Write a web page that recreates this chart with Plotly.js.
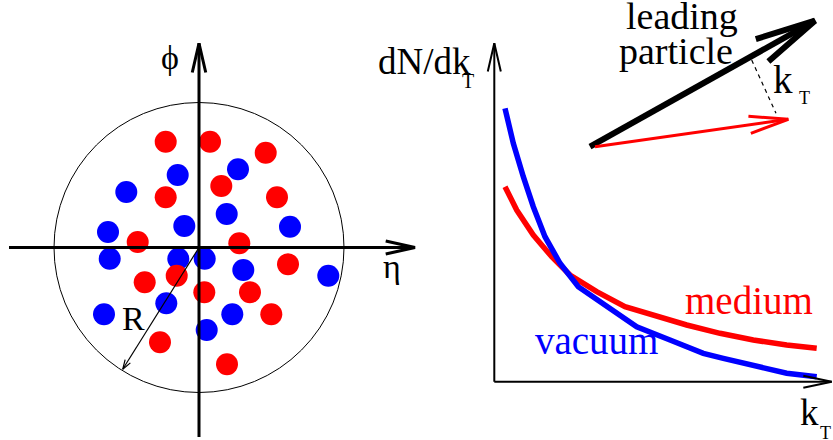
<!DOCTYPE html>
<html>
<head>
<meta charset="utf-8">
<script src="https://cdn.plot.ly/plotly-3.0.1.min.js"></script>
<style>
html,body{margin:0;padding:0;background:#fff;}
#plot{width:833px;height:440px;}
</style>
</head>
<body>
<div id="plot"></div>
<script>
// ---- Data (page-pixel frame: x right, y down) ----
// Left panel: particles in the eta-phi plane
const redEta  = [165.7,210,265.7,221.3,165.7,277,137.7,239.3,288,176.7,144.7,204.3,250,271.3,160,227];
const redPhi  = [141.7,141.7,152.7,186,197.3,197.3,242,243.3,264.3,275.7,282.3,292.3,292.3,314.3,342.3,364.3];
const blueEta = [177.7,238,126.3,226.7,184.3,290,108,109.7,178.3,204.7,243.3,328.3,166.3,104,232.3,206.7];
const bluePhi = [175,169.3,192,214,226,226.7,232,258.7,258.7,258.7,270,275.7,303.3,314.3,314.3,330];
const coneCenter = [199, 247.5];
const coneRadius = 145;
const radiusTip = [122.7, 369.3];

// Right panel: dN/dkT spectra
const vacKT = [505,513.3,523.3,533.3,545,560,578.3,603.3,623.3,636.7,670,703.3,723.3,753.3,786.7,816.7];
const vacDN = [108.3,143.3,176.7,206.7,236.7,263.3,286.7,303.3,316.7,326.7,340,353.3,358.3,365,373.3,376.7];
const medKT = [505,516.7,533.3,551.7,570,596.7,625,653.3,686.7,720,753.3,786.7,816.7];
const medDN = [186.7,210,235,256.7,275,291.7,306.7,315,325,333.3,340,345,348.3];

// Axis arrows [x0,y0,x1,y1]
const etaAxis = [9,247.5,415,247.5];
const phiAxis = [199,437,199,43.3];
const kTAxis  = [494.3,381.7,831.7,381.7];
const dNAxis  = [494.3,381.7,494.3,43.3];
// Momentum vectors [x0,y0,x1,y1]
const leadingVec = [590,146.7,815,20.7];
const radiatedVec = [595,146.7,788.3,119.3];
const kTLine = [751.7,60,776,113.3];

// Labels (subscripts drawn as their own small labels)
const labels = ['ϕ','η','R','dN/dk','T','leading','particle','k','T','medium','vacuum','k','T'];

// ---- drawing ----
const traces = [];
function seg(v, width, color, dash){
  traces.push({x:[v[0],v[2]], y:[v[1],v[3]], mode:'lines', hoverinfo:'skip',
    line:{color:color, width:width, dash:dash||'solid'}, showlegend:false});
}
function head(v, len, ang, width, color){
  const dir = Math.atan2(v[1]-v[3], v[0]-v[2]);
  const a = ang*Math.PI/180;
  traces.push({x:[v[2]+len*Math.cos(dir+a), v[2], v[2]+len*Math.cos(dir-a)],
    y:[v[3]+len*Math.sin(dir+a), v[3], v[3]+len*Math.sin(dir-a)],
    mode:'lines', hoverinfo:'skip', line:{color:color, width:width}, showlegend:false});
}
function arrow(v, len, ang, width, color){ seg(v,width,color); head(v,len,ang,width,color); }

traces.push({x:blueEta, y:bluePhi, mode:'markers', hoverinfo:'skip', showlegend:false,
  marker:{color:'#0000ff', size:22, line:{width:0}}});
traces.push({x:redEta, y:redPhi, mode:'markers', hoverinfo:'skip', showlegend:false,
  marker:{color:'#ff0000', size:22, line:{width:0}}});
arrow(etaAxis, 30, 12.5, 3, '#000');
arrow(phiAxis, 30, 13, 3, '#000');
arrow([coneCenter[0],coneCenter[1],radiusTip[0],radiusTip[1]], 10, 18, 1.2, '#000');

traces.push({x:medKT, y:medDN, mode:'lines', hoverinfo:'skip', showlegend:false,
  line:{color:'#ff0000', width:5.5}});
traces.push({x:vacKT, y:vacDN, mode:'lines', hoverinfo:'skip', showlegend:false,
  line:{color:'#0000ff', width:5.5}});
arrow(kTAxis, 29, 12, 2, '#000');
arrow(dNAxis, 29, 13, 2, '#000');
arrow(leadingVec, 62, 12, 6, '#000');
arrow(radiatedVec, 40, 12.5, 3, '#ff0000');
seg(kTLine, 1.2, '#000', '4px,4px');

const serif = 'Liberation Serif';
function ann(i, x, y, size, color, xanchor){
  return {text:labels[i], x:x, y:y, xref:'x', yref:'y', showarrow:false,
    xanchor:xanchor||'center', yanchor:'middle', font:{family:serif, size:size, color:color||'#000'}};
}
const annotations = [
  ann(0, 170, 57, 34),
  ann(1, 392, 266, 34),
  ann(2, 133.5, 318, 34),
  ann(3, 424, 61, 37),
  ann(4, 468, 81, 20),
  ann(5, 681.5, 16, 38),
  ann(6, 676, 50.5, 38),
  ann(7, 783, 79.5, 39),
  ann(8, 804, 97.5, 18),
  ann(9, 749, 300, 39, '#ff0000'),
  ann(10, 596.5, 340, 39, '#0000ff'),
  ann(11, 809, 412.5, 37),
  ann(12, 818, 433, 18, '#000', 'left')
];

const layout = {
  width:833, height:440, margin:{l:0,r:0,t:0,b:0},
  paper_bgcolor:'#fff', plot_bgcolor:'#fff', showlegend:false,
  font:{family:serif},
  xaxis:{range:[0,833], visible:false, fixedrange:true},
  yaxis:{range:[440,0], visible:false, fixedrange:true},
  shapes:[{type:'circle', xref:'x', yref:'y', layer:'below',
    x0:coneCenter[0]-coneRadius, x1:coneCenter[0]+coneRadius,
    y0:coneCenter[1]-coneRadius, y1:coneCenter[1]+coneRadius,
    line:{color:'#000', width:1}}],
  annotations:annotations
};
Plotly.newPlot('plot', traces, layout, {staticPlot:true, displayModeBar:false});
</script>
</body>
</html>
